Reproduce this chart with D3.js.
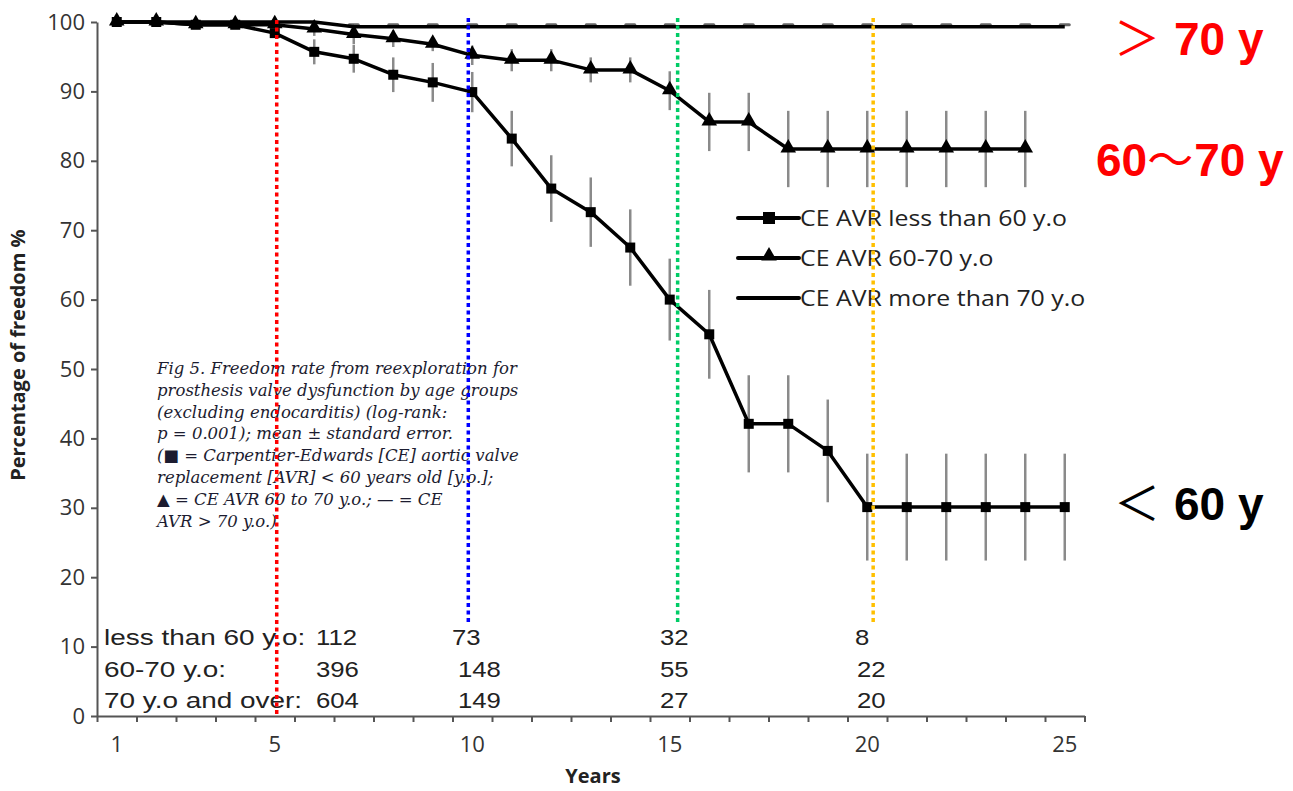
<!DOCTYPE html>
<head>
  <meta charset="utf-8">
  <script src="https://d3js.org/d3.v7.min.js"></script>
  <style>
    body { margin: 0; background: #fff; }
    svg { display: block; }
    .axis text { font: 22px "Open Sans", sans-serif; fill: #333; }
    .axis path, .axis line { stroke: #555; stroke-width: 2; }
    .legend text { font: 22px "Open Sans", sans-serif; fill: #222; }
    .caption { font: italic 16.5px "DejaVu Serif", serif; fill: #1c1c30; }
    .risk text { font: 22px "Liberation Sans", Arial, sans-serif; fill: #222; }
    .tag { font-weight: bold; font-family: "Liberation Sans", Arial, sans-serif; font-size: 46px; }
    .tag .sym { font-family: "Noto Sans CJK SC", sans-serif; font-weight: normal; }
  </style>
</head>
<body>
<script>

// survival (%) by follow-up year
var years = [1, 2, 3, 4, 5, 6, 7, 8, 9, 10, 11, 12, 13, 14, 15, 16, 17, 18, 19, 20, 21, 22, 23, 24, 25];
var yearLabels = [1, 5, 10, 15, 20, 25];

var under60 = [100, 100, 99.6, 99.6, 98.4, 95.7, 94.7, 92.4, 91.3, 89.9, 83.2, 76.0, 72.6, 67.5,
               60.0, 55.0, 42.1, 42.1, 38.2, 30.1, 30.1, 30.1, 30.1, 30.1, 30.1];
var under60Err = [0, 0, 0.3, 0.3, 0.6, 1.8, 2.0, 2.5, 2.8, 2.9, 4.0, 4.8, 5.0, 5.5,
                  5.9, 6.4, 7.0, 7.0, 7.4, 7.7, 7.7, 7.7, 7.7, 7.7, 7.7];

var age6070 = [100, 100, 99.6, 99.6, 99.6, 99.0, 98.2, 97.6, 96.8, 95.2, 94.5, 94.5, 93.1, 93.1,
               90.1, 85.6, 85.6, 81.7, 81.7, 81.7, 81.7, 81.7, 81.7, 81.7];
var age6070Err = [0, 0, 0.3, 0.3, 0.4, 1.0, 1.4, 1.2, 1.0, 1.4, 1.6, 1.6, 1.8, 1.8,
                  2.8, 4.2, 4.2, 5.5, 5.5, 5.5, 5.5, 5.5, 5.5, 5.5];

var over70 = [100, 100, 100, 100, 100, 100, 99.3, 99.3, 99.3, 99.3, 99.3, 99.3, 99.3, 99.3,
              99.3, 99.3, 99.3, 99.3, 99.3, 99.3, 99.3, 99.3, 99.3, 99.3, 99.3];
var over70Err = [0, 0, 0, 0, 0, 0, 0.3, 0.3, 0.3, 0.3, 0.3, 0.3, 0.3, 0.3,
                 0.3, 0.3, 0.3, 0.3, 0.3, 0.3, 0.3, 0.3, 0.3, 0.3, 0.3];

var legendNames = ["CE AVR less than 60 y.o", "CE AVR 60-70 y.o", "CE AVR more than 70 y.o"];

// numbers at risk
var riskGroups = ["less than 60 y.o:", "60-70 y.o:", "70 y.o and over:"];
var riskCounts = [
  [112, 73, 32, 8],
  [396, 148, 55, 22],
  [604, 149, 27, 20]
];

// highlighted years
var markYears = [5.05, 9.9, 15.2, 20.15];
var markColors = ["#ff0000", "#0000ff", "#00cc66", "#ffc000"];

var captionLines = [
  "Fig 5.  Freedom rate from reexploration for",
  "prosthesis valve dysfunction by age groups",
  "(excluding endocarditis) (log-rank:",
  "p = 0.001); mean \u00b1 standard error.",
  "(\u25a0 = Carpentier-Edwards [CE] aortic valve",
  "replacement [AVR] < 60 years old [y.o.];",
  "\u25b2 = CE AVR 60 to 70 y.o.; \u2014 = CE",
  "AVR > 70 y.o.)"
];

var tags = [
  { pre: "", sym: "\uff1e", post: "70 y", value: 99.3, color: "#ff0000" },
  { pre: "60", sym: "\uff5e", post: "70 y", value: 81.7, color: "#ff0000" },
  { pre: "", sym: "\uff1c", post: "60 y", value: 30.1, color: "#000000" }
];

var W = 1293, H = 791;

var svg = d3.select("body").append("svg")
    .attr("width", W)
    .attr("height", H);

var x = d3.scaleLinear().domain([0.5, 25.5]).range([97, 1084.5]);
var y = d3.scaleLinear().domain([0, 100]).range([716, 22]);

// axes
svg.append("g")
    .attr("class", "axis")
    .attr("transform", "translate(" + x(0.5) + ",0)")
    .call(d3.axisLeft(y).tickValues(d3.range(0, 101, 10)).tickSize(6).tickPadding(6).tickSizeOuter(0));

var xAxis = svg.append("g")
    .attr("class", "axis")
    .attr("transform", "translate(0," + y(0) + ")")
    .call(d3.axisBottom(x).tickValues(d3.range(0.5, 25.6, 1)).tickSize(6).tickFormat("").tickSizeOuter(0));

xAxis.selectAll(".lbl")
    .data(yearLabels)
  .enter().append("text")
    .attr("class", "lbl")
    .attr("x", function(d) { return x(d); })
    .attr("y", 36)
    .attr("text-anchor", "middle")
    .text(function(d) { return d; });

svg.append("text")
    .attr("transform", "translate(25," + y(52) + ") rotate(-90)")
    .attr("text-anchor", "middle")
    .style("font", "bold 20px 'Open Sans', sans-serif")
    .style("fill", "#222")
    .text("Percentage of freedom %");

svg.append("text")
    .attr("x", 593)
    .attr("y", 783)
    .attr("text-anchor", "middle")
    .style("font", "bold 20px 'Open Sans', sans-serif")
    .style("fill", "#222")
    .text("Years");

// caption block
svg.append("g").selectAll("text")
    .data(captionLines)
  .enter().append("text")
    .attr("class", "caption")
    .attr("x", 157)
    .attr("y", function(d, i) { return 374 + i * 21.8; })
    .text(function(d) { return d; });

// numbers at risk table (glyphs are stretched wide)
var risk = svg.append("g").attr("class", "risk");
risk.selectAll(".grp")
    .data(riskGroups)
  .enter().append("text")
    .attr("transform", function(d, i) { return "translate(104," + (645 + i * 31.5) + ") scale(1.27,1)"; })
    .text(function(d) { return d; });

var riskLeft = [[316, 452, 660, 855], [316, 458, 660, 857], [316, 458, 660, 857]];
riskCounts.forEach(function(row, r) {
  risk.selectAll(".n" + r)
      .data(row)
    .enter().append("text")
      .attr("transform", function(d, i) { return "translate(" + riskLeft[r][i] + "," + (645 + r * 31.5) + ") scale(1.17,1)"; })
      .text(function(d) { return d; });
});

// error bars
function errorBars(vals, errs) {
  svg.append("g").selectAll("line")
      .data(vals.map(function(v, i) { return { yr: years[i], v: v, e: errs[i] }; })
        .filter(function(d) { return d.e > 0.5; }))
    .enter().append("line")
      .attr("x1", function(d) { return x(d.yr); })
      .attr("x2", function(d) { return x(d.yr); })
      .attr("y1", function(d) { return y(d.v + d.e); })
      .attr("y2", function(d) { return y(d.v - d.e); })
      .attr("stroke", "#8a8a8a")
      .attr("stroke-width", 2.5);
}
errorBars(under60, under60Err);
errorBars(age6070, age6070Err);

// small caps on the >70 line
svg.append("g").selectAll("rect")
    .data(over70.map(function(v, i) { return { yr: years[i], v: v, e: over70Err[i] }; })
      .filter(function(d) { return d.e > 0; }))
  .enter().append("rect")
    .attr("x", function(d) { return x(d.yr) - 6; })
    .attr("y", function(d) { return y(d.v + d.e) - 1.5; })
    .attr("width", 12)
    .attr("height", 3)
    .attr("rx", 1.5)
    .attr("fill", "#666");

var line = d3.line()
    .x(function(d, i) { return x(years[i]); })
    .y(function(d) { return y(d); });

[over70, age6070, under60].forEach(function(s) {
  svg.append("path")
      .datum(s)
      .attr("fill", "none")
      .attr("stroke", "#000")
      .attr("stroke-width", 3.5)
      .attr("stroke-linejoin", "round")
      .attr("d", line);
});

var tri = d3.symbol().type(d3.symbolTriangle).size(105);
svg.append("g").selectAll("path")
    .data(age6070)
  .enter().append("path")
    .attr("transform", function(d, i) { return "translate(" + x(years[i]) + "," + (y(d) - 1) + ")"; })
    .attr("d", tri)
    .attr("fill", "#000");

svg.append("g").selectAll("rect")
    .data(under60)
  .enter().append("rect")
    .attr("x", function(d, i) { return x(years[i]) - 5; })
    .attr("y", function(d) { return y(d) - 5; })
    .attr("width", 10)
    .attr("height", 10)
    .attr("fill", "#000");

// legend
var legend = svg.append("g").attr("class", "legend");
legendNames.forEach(function(name, i) {
  var ly = 218 + i * 40;
  legend.append("line")
      .attr("x1", 738).attr("x2", 799)
      .attr("y1", ly).attr("y2", ly)
      .attr("stroke", "#000")
      .attr("stroke-width", 4)
      .attr("stroke-linecap", "round");
  if (i === 0) {
    legend.append("rect").attr("x", 763).attr("y", ly - 6).attr("width", 12).attr("height", 12).attr("fill", "#000");
  } else if (i === 1) {
    legend.append("path").attr("transform", "translate(769," + (ly - 2) + ")").attr("d", tri).attr("fill", "#000");
  }
  legend.append("text")
      .attr("transform", "translate(800," + (ly + 8) + ") scale(1.13,1)")
      .text(name);
});

// highlighted years
svg.append("g").selectAll("line")
    .data(markYears)
  .enter().append("line")
    .attr("x1", function(d) { return x(d); })
    .attr("x2", function(d) { return x(d); })
    .attr("y1", function(d, i) { return i === 0 ? 20 : 18; })
    .attr("y2", function(d, i) { return i === 0 ? y(0) : 622; })
    .attr("stroke", function(d, i) { return markColors[i]; })
    .attr("stroke-width", 3.5)
    .attr("stroke-dasharray", "4 3.5");

// group tags on the right
var tagText = svg.append("g").selectAll("text")
    .data(tags)
  .enter().append("text")
    .attr("class", "tag")
    .attr("x", function(d, i) { return i === 1 ? 1096 : 1114; })
    .attr("y", function(d, i) { return [55, 176, 520][i]; })
    .attr("fill", function(d) { return d.color; });

tagText.append("tspan").text(function(d) { return d.pre; });
tagText.append("tspan").attr("class", "sym").text(function(d) { return d.sym; });
tagText.append("tspan").attr("dx", function(d) { return d.pre ? 1 : 14; }).text(function(d) { return d.post; });

</script>
</body>
